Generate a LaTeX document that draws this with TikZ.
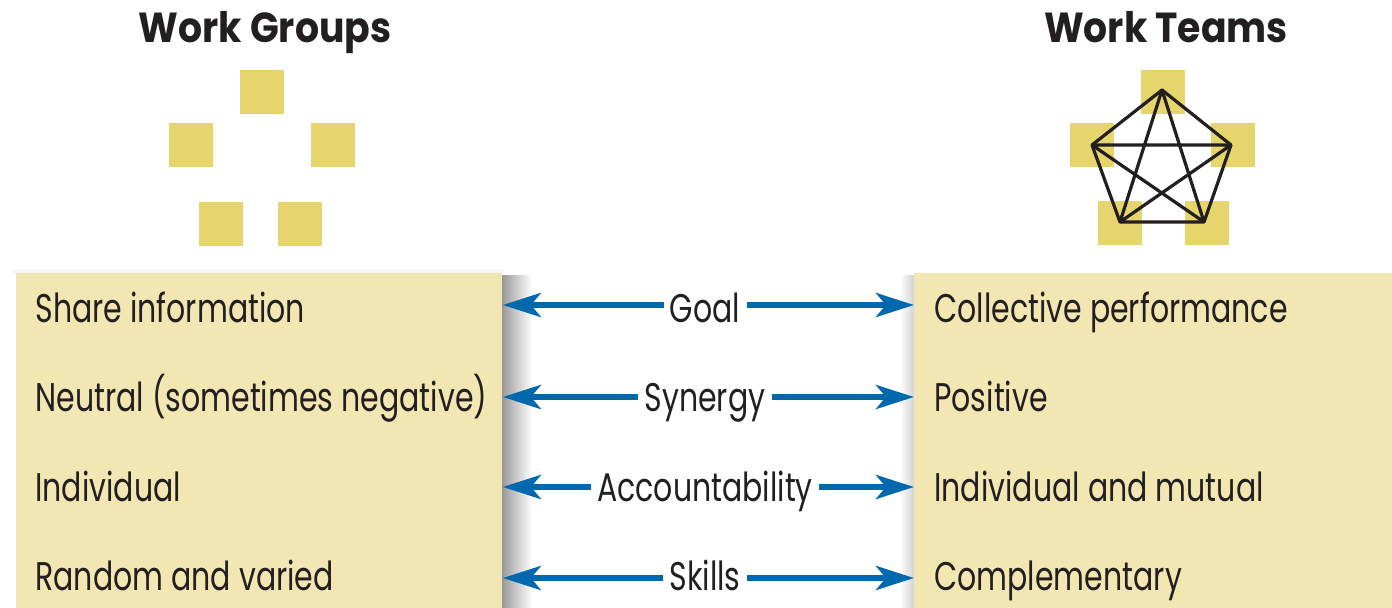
\documentclass[tikz,border=0pt]{standalone}
\usepackage{fontspec}
\setmainfont{Poppins}[FakeStretch=0.75]
\newfontfamily\headfont{Poppins}[FakeStretch=0.9]
\usetikzlibrary{arrows.meta}
\definecolor{boxfill}{HTML}{F2E6B2}
\definecolor{tile}{HTML}{E6D46C}
\definecolor{link}{HTML}{0068AC}
\definecolor{ink}{HTML}{231F20}
\begin{document}
\begin{tikzpicture}[x=0.5pt,y=-0.5pt,
  tilebox/.style={fill=tile,draw=none,minimum size=22pt,inner sep=0pt},
  panel/.style={fill=boxfill,draw=none,inner sep=0pt},
  heading/.style={font=\headfont\fontsize{21}{24}\selectfont\bfseries,text=ink,anchor=base,inner sep=0pt},
  rowtext/.style={font=\fontsize{20}{24}\selectfont,text=ink,anchor=base west,inner sep=0pt},
  label/.style={font=\fontsize{20}{24}\selectfont,text=ink,anchor=base,inner xsep=3pt,inner ysep=0pt},
  conn/.style={draw=link,line width=3pt,-{Stealth[length=19pt,width=12pt,inset=5pt]}},
  edge/.style={draw=ink,line width=1.6pt,line join=round}]
\useasboundingbox (0,0) rectangle (1392,608);

% headings
\node[heading] (hg) at (265,43) {Work Groups};
\node[heading] (ht) at (1166,43) {Work Teams};

% scattered members of a group
\node[tilebox] (g1) at (262,92) {};
\node[tilebox] (g2) at (191,145) {};
\node[tilebox] (g3) at (333,145) {};
\node[tilebox] (g4) at (221,224) {};
\node[tilebox] (g5) at (300,224) {};

% members of a team
\node[tilebox] (t1) at (1163,92) {};
\node[tilebox] (t2) at (1092,145) {};
\node[tilebox] (t3) at (1233,145) {};
\node[tilebox] (t4) at (1120,223) {};
\node[tilebox] (t5) at (1207,223) {};

% every member linked to every other
\coordinate (p1) at (1162,90);
\coordinate (p2) at (1092,145);
\coordinate (p3) at (1231,145);
\coordinate (p4) at (1120,222);
\coordinate (p5) at (1204,222);
\draw[edge] (p1) -- (p3) -- (p5) -- (p4) -- (p2) -- cycle;
\draw[edge] (p1) -- (p4) (p1) -- (p5) (p2) -- (p3) (p2) -- (p5) (p3) -- (p4);

% soft shadows next to the panels
\shade[left color=black!40,right color=white] (502,276) rectangle (532,608);
\shade[left color=white,right color=black!18] (900,276) rectangle (914,608);
\fill[black!3] (12,269) rectangle (504,273);

% panels
\node[panel,minimum width=243pt,minimum height=168pt,anchor=north west] (lp) at (16,273) {};
\node[panel,minimum width=239pt,minimum height=168pt,anchor=north west] (rp) at (914,273) {};

% left column
\node[rowtext] (l1) at (35,323) {Share information};
\node[rowtext] (l2) at (35,412) {Neutral (sometimes negative)};
\node[rowtext] (l3) at (35,502) {Individual};
\node[rowtext] (l4) at (35,590) {Random and varied};

% right column
\node[rowtext] (r1) at (934,323) {Collective performance};
\node[rowtext] (r2) at (934,412) {Positive};
\node[rowtext] (r3) at (934,502) {Individual and mutual};
\node[rowtext] (r4) at (934,590) {Complementary};

% middle labels
\node[label] (m1) at (705,323) {Goal};
\node[label] (m2) at (705,412) {Synergy};
\node[label] (m3) at (705,502) {Accountability};
\node[label] (m4) at (705,590) {Skills};

% arrows
\foreach \m/\y in {m1/305,m2/397,m3/487,m4/578}{
  \coordinate (a\m) at (\m.west |- 0,\y);
  \coordinate (b\m) at (\m.east |- 0,\y);
  \draw[conn] (a\m) -- (lp.east |- a\m);
  \draw[conn] (b\m) -- (rp.west |- b\m);
}
\end{tikzpicture}
\end{document}
